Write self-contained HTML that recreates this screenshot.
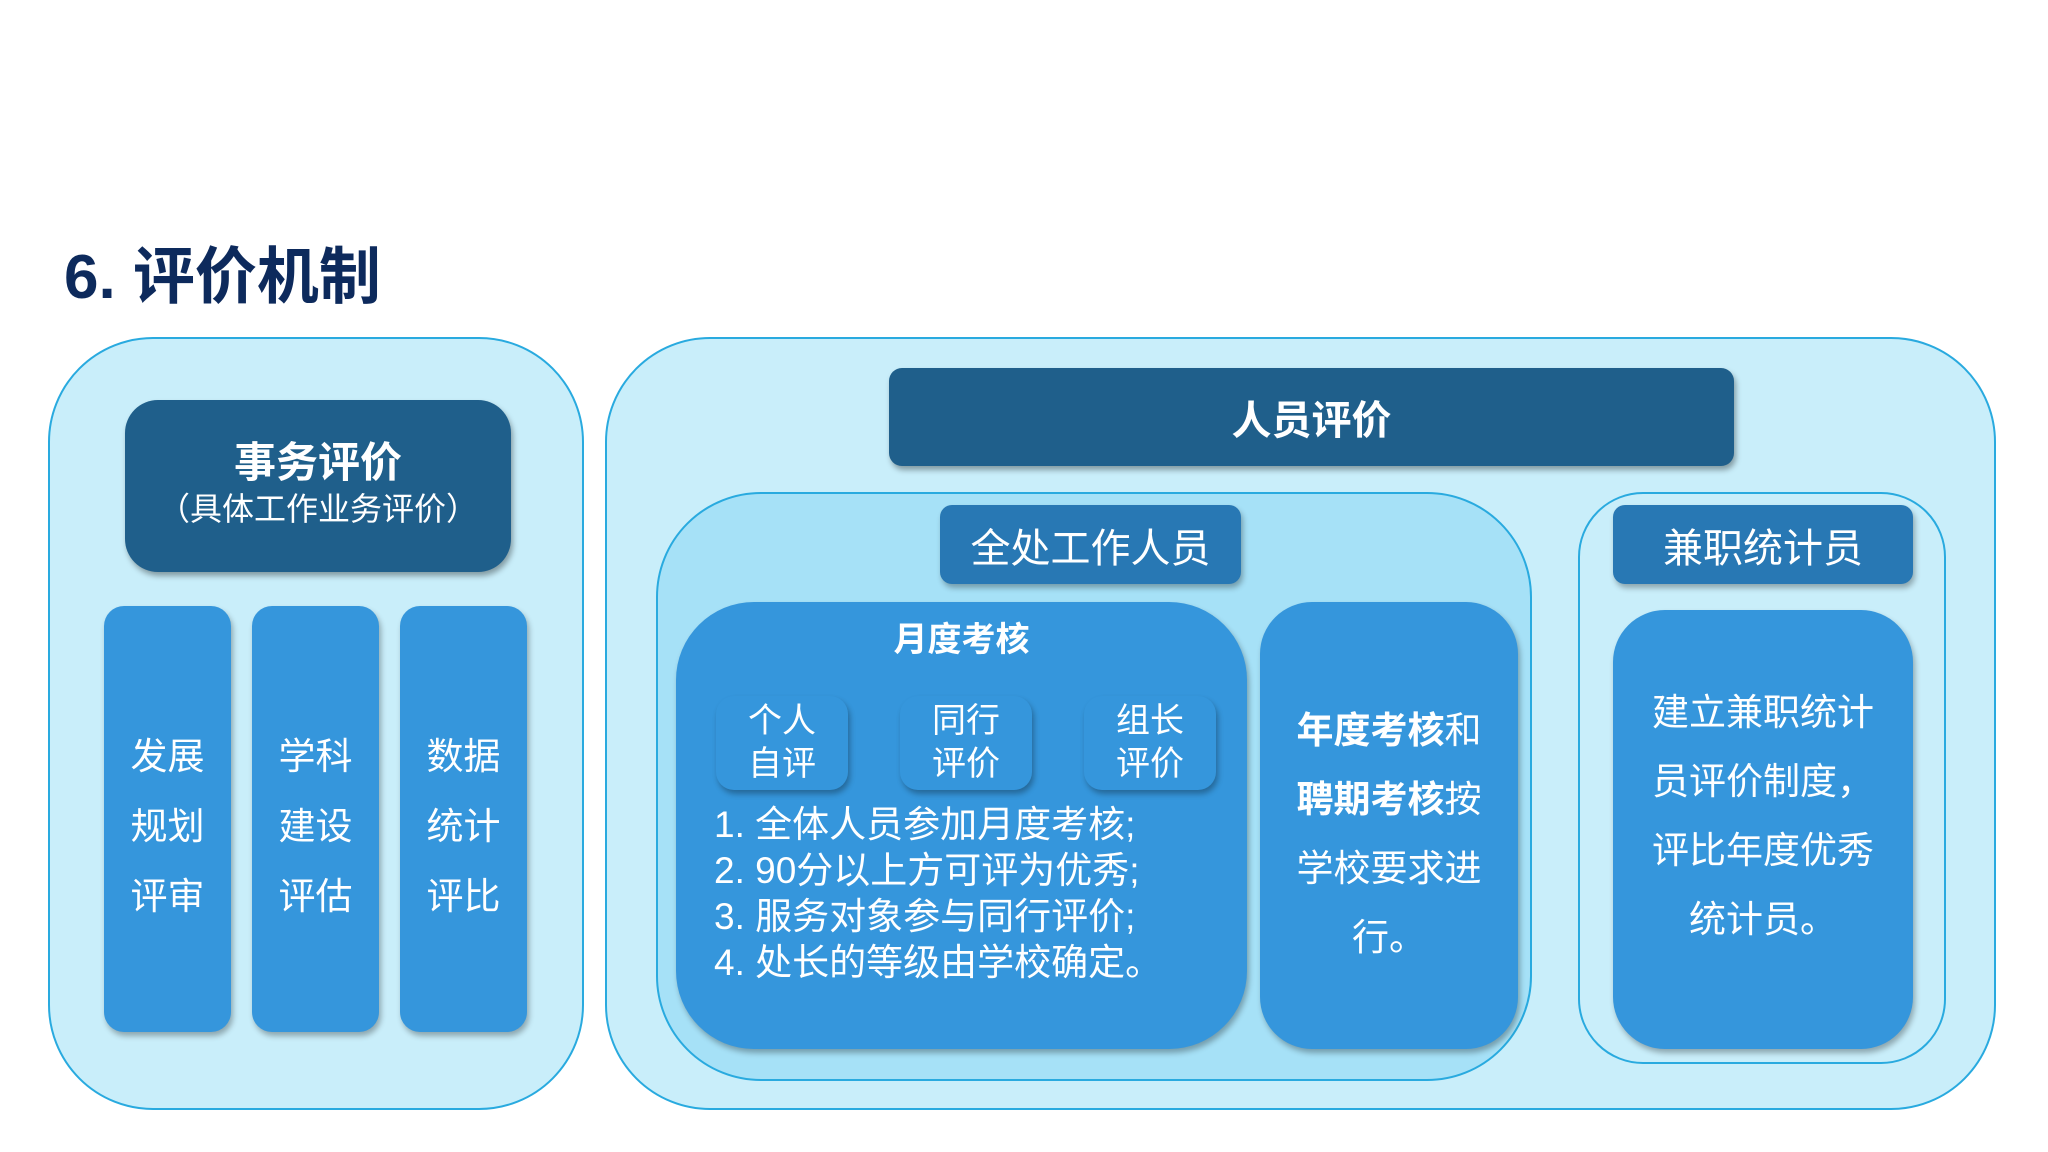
<!DOCTYPE html>
<html><head><meta charset="utf-8"><style>
body{margin:0;width:2048px;height:1152px;background:#fff;position:relative;overflow:hidden;font-family:"Liberation Sans","Noto Sans CJK SC",sans-serif;}
div{position:absolute;box-sizing:border-box;}
.c{display:flex;align-items:center;justify-content:center;text-align:center;color:#fff;}
.dark{background:#1f5f8b;box-shadow:2px 4px 6px rgba(0,0,0,0.35);}
.mid{background:#3596dc;box-shadow:2px 4px 6px rgba(0,0,0,0.3);}
.tab{background:#2878b4;box-shadow:2px 4px 6px rgba(0,0,0,0.3);}
.t{color:#fff;text-align:center;left:0;right:0;}
</style></head><body>
<div style="left:64px;top:240px;font-size:62px;font-weight:bold;color:#0d2a5c;line-height:76px;">6. 评价机制</div>

<div style="left:48px;top:337px;width:536px;height:773px;border:2px solid #29aadf;border-radius:105px;background:#c9eefa;"></div>
<div class="dark" style="left:125px;top:400px;width:386px;height:172px;border-radius:33px;"></div>
<div class="t" style="left:125px;width:386px;top:437px;font-size:42px;font-weight:bold;line-height:52px;right:auto;">事务评价</div>
<div class="t" style="left:125px;width:386px;top:488px;font-size:32px;line-height:42px;right:auto;">（具体工作业务评价）</div>

<div class="mid" style="left:104px;top:606px;width:127px;height:426px;border-radius:20px;"></div>
<div class="mid" style="left:252px;top:606px;width:127px;height:426px;border-radius:20px;"></div>
<div class="mid" style="left:400px;top:606px;width:127px;height:426px;border-radius:20px;"></div>
<div class="t" style="left:104px;width:127px;right:auto;top:722px;font-size:37px;line-height:70px;">发展<br>规划<br>评审</div>
<div class="t" style="left:252px;width:127px;right:auto;top:722px;font-size:37px;line-height:70px;">学科<br>建设<br>评估</div>
<div class="t" style="left:400px;width:127px;right:auto;top:722px;font-size:37px;line-height:70px;">数据<br>统计<br>评比</div>

<div style="left:605px;top:337px;width:1391px;height:773px;border:2px solid #29aadf;border-radius:105px;background:#c9eefa;"></div>
<div class="dark c" style="left:889px;top:368px;width:845px;height:98px;border-radius:13px;font-size:40px;font-weight:bold;">人员评价</div>

<div style="left:656px;top:492px;width:876px;height:589px;border:2px solid #29aadf;border-radius:105px;background:#a6e1f7;"></div>
<div class="tab c" style="left:940px;top:505px;width:301px;height:79px;border-radius:12px;font-size:40px;">全处工作人员</div>
<div class="mid" style="left:676px;top:602px;width:571px;height:447px;border-radius:78px;"></div>
<div class="t" style="left:676px;width:571px;right:auto;top:618px;font-size:34px;font-weight:bold;line-height:44px;">月度考核</div>
<div class="mid c" style="left:716px;top:696px;width:132px;height:94px;border-radius:18px;font-size:34px;line-height:43px;">个人<br>自评</div>
<div class="mid c" style="left:900px;top:696px;width:132px;height:94px;border-radius:18px;font-size:34px;line-height:43px;">同行<br>评价</div>
<div class="mid c" style="left:1084px;top:696px;width:132px;height:94px;border-radius:18px;font-size:34px;line-height:43px;">组长<br>评价</div>
<div style="left:714px;top:802px;color:#fff;font-size:37px;line-height:46px;white-space:nowrap;">1. 全体人员参加月度考核;<br>2. 90分以上方可评为优秀;<br>3. 服务对象参与同行评价;<br>4. 处长的等级由学校确定。</div>

<div class="mid" style="left:1260px;top:602px;width:258px;height:447px;border-radius:52px;"></div>
<div class="t" style="left:1260px;width:258px;right:auto;top:696px;font-size:37px;line-height:69px;"><b>年度考核</b>和<br><b>聘期考核</b>按<br>学校要求进<br>行。</div>

<div style="left:1578px;top:492px;width:368px;height:572px;border:2px solid #29aadf;border-radius:65px;background:#c9eefa;"></div>
<div class="tab c" style="left:1613px;top:505px;width:300px;height:79px;border-radius:12px;font-size:40px;">兼职统计员</div>
<div class="mid" style="left:1613px;top:610px;width:300px;height:439px;border-radius:52px;"></div>
<div class="t" style="left:1613px;width:300px;right:auto;top:678px;font-size:37px;line-height:69px;">建立兼职统计<br>员评价制度，<br>评比年度优秀<br>统计员。</div>
</body></html>
